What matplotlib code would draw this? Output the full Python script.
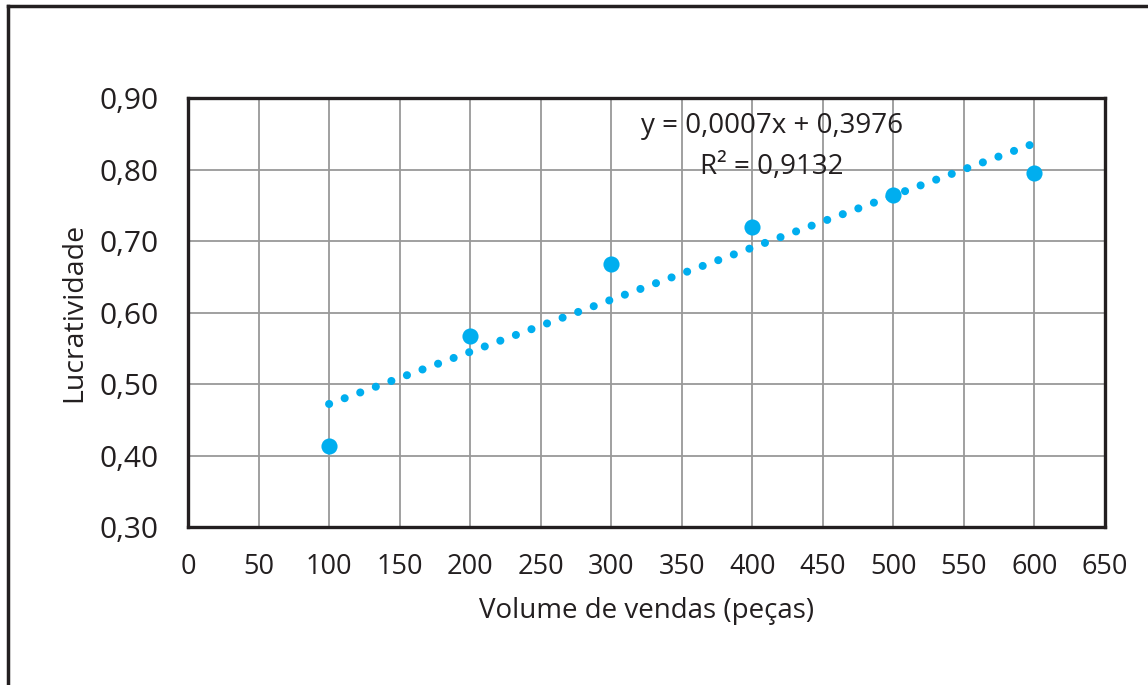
import numpy as np
import matplotlib
matplotlib.use("Agg")
import matplotlib.pyplot as plt
from matplotlib.lines import Line2D

# dados
volume = [100, 200, 300, 400, 500, 600]
lucratividade = [0.413, 0.567, 0.668, 0.719, 0.764, 0.795]
x_ticks = list(range(0, 651, 50))
y_ticks = [0.30, 0.40, 0.50, 0.60, 0.70, 0.80, 0.90]
equacao = "y = 0,0007x + 0,3976"
r2 = "R² = 0,9132"

azul = "#00AEEF"
preto = "#231F20"

plt.rcParams["font.family"] = ["Open Sans", "DejaVu Sans"]

fig = plt.figure(figsize=(11.48, 6.85), dpi=100)
ax = fig.add_axes([188 / 1148, 1 - 527 / 685, (1105 - 188) / 1148, (527 - 98) / 685])

# moldura externa (so topo e esquerda aparecem)
fig.add_artist(Line2D([8 / 1148, 1], [1 - 6 / 685, 1 - 6 / 685], color=preto, lw=2.5,
                      transform=fig.transFigure))
fig.add_artist(Line2D([8 / 1148, 8 / 1148], [0, 1 - 6 / 685], color=preto, lw=2.5,
                      transform=fig.transFigure))

# linha de tendencia
coef = np.polyfit(volume, lucratividade, 1)
xt = np.array([volume[0], volume[-1]])
ax.plot(xt, np.polyval(coef, xt), color=azul, lw=5.8,
        linestyle=(0, (0.01, 2.05)), dash_capstyle="round", zorder=3)

ax.scatter(volume, lucratividade, s=135, color=azul, zorder=4, linewidths=0)

ax.set_xlim(0, 650)
ax.set_ylim(0.3, 0.9)
ax.set_xticks(x_ticks)
ax.set_yticks(y_ticks)
ax.set_xticklabels([str(v) for v in x_ticks], fontsize=19.5, color=preto)
ax.set_yticklabels([f"{v:.2f}".replace(".", ",") for v in y_ticks], fontsize=21.5, color=preto)
ax.tick_params(axis="x", length=0, pad=18.5)
ax.tick_params(axis="y", length=0, pad=21)

ax.grid(True, color="#999999", lw=1.3)
ax.set_axisbelow(True)
for s in ax.spines.values():
    s.set_color(preto)
    s.set_linewidth(2.4)

ax.set_xlabel("Volume de vendas (peças)", fontsize=20, color=preto, labelpad=12)
ax.set_ylabel("Lucratividade", fontsize=20.5, color=preto, labelpad=8)

ax.text(414, 0.8508, equacao, ha="center", va="baseline", fontsize=20,
        color=preto, zorder=5)
ax.text(414, 0.7932, r2, ha="center", va="baseline", fontsize=20,
        color=preto, zorder=5)

fig.savefig("out.png", dpi=100)
